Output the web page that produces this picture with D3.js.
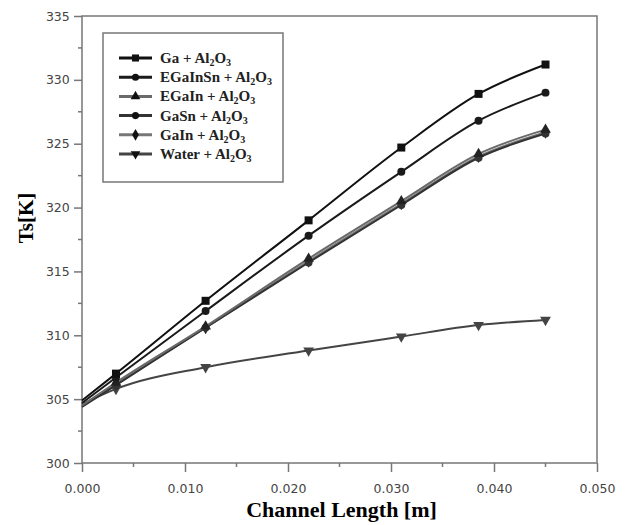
<!DOCTYPE html>
<html>
<head>
<meta charset="utf-8">
<script src="https://cdn.jsdelivr.net/npm/d3@7"></script>
<style>
  body { margin: 0; background: #fff; }
  svg text { font-family: "DejaVu Sans", Verdana, sans-serif; }
</style>
</head>
<body>
<script>
// data
const channelLength = [0, 0.0033, 0.012, 0.022, 0.031, 0.0385, 0.045];
const ga       = [304.9, 307.0, 312.7, 319.0, 324.7, 328.9, 331.2];
const egainsn  = [304.7, 306.7, 311.9, 317.8, 322.8, 326.8, 329.0];
const egain    = [304.5, 306.3, 310.7, 316.0, 320.5, 324.2, 326.1];
const gasn     = [304.4, 306.1, 310.6, 315.7, 320.2, 323.9, 325.8];
const gain     = [304.5, 306.2, 310.6, 315.8, 320.3, 324.0, 325.9];
const water    = [304.6, 305.8, 307.5, 308.8, 309.9, 310.8, 311.2];
const fluids = ['Ga', 'EGaInSn', 'EGaIn', 'GaSn', 'GaIn', 'Water'];
const xTicks = [0, 0.01, 0.02, 0.03, 0.04, 0.05];
const yTicks = [300, 305, 310, 315, 320, 325, 330, 335];

const series = [
  { name: fluids[0], values: ga,      color: '#111', symbol: d3.symbolSquare },
  { name: fluids[1], values: egainsn, color: '#1a1a1a', symbol: d3.symbolCircle },
  { name: fluids[2], values: egain,   color: '#6a6a6a', symbol: d3.symbolTriangle },
  { name: fluids[3], values: gasn,    color: '#333', symbol: d3.symbolCircle },
  { name: fluids[4], values: gain,    color: '#777', symbol: d3.symbolDiamond },
  { name: fluids[5], values: water,   color: '#444', symbol: d3.symbolTriangle, flip: true }
];

const W = 630, H = 525;
const m = { left: 82, right: 33, top: 16, bottom: 62 };

const svg = d3.select('body').append('svg')
  .attr('width', W)
  .attr('height', H);

const x = d3.scaleLinear().domain([0, 0.05]).range([m.left, W - m.right]);
const y = d3.scaleLinear().domain([300, 335]).range([H - m.bottom, m.top]);

// frame
svg.append('rect')
  .attr('x', m.left).attr('y', m.top)
  .attr('width', x(0.05) - m.left).attr('height', y(300) - m.top)
  .attr('fill', 'none').attr('stroke', '#777').attr('stroke-width', 1.5);

// minor ticks
const xMinor = d3.range(0.005, 0.05, 0.01);
const yMinor = d3.range(302.5, 335, 5);
svg.append('g').selectAll('line').data(xMinor).enter().append('line')
  .attr('x1', d => x(d)).attr('x2', d => x(d))
  .attr('y1', y(300)).attr('y2', y(300) + 4)
  .attr('stroke', '#777').attr('stroke-width', 1.5);
svg.append('g').selectAll('line').data(yMinor).enter().append('line')
  .attr('y1', d => y(d)).attr('y2', d => y(d))
  .attr('x1', m.left).attr('x2', m.left - 4)
  .attr('stroke', '#777').attr('stroke-width', 1.5);

// axes
const xAxis = d3.axisBottom(x).tickValues(xTicks).tickFormat(d3.format('.3f')).tickSize(9).tickSizeOuter(0);
const yAxis = d3.axisLeft(y).tickValues(yTicks).tickSize(8).tickSizeOuter(0);

const gx = svg.append('g')
  .attr('transform', `translate(0, ${y(300)})`)
  .call(xAxis);
const gy = svg.append('g')
  .attr('transform', `translate(${m.left}, 0)`)
  .call(yAxis);

[gx, gy].forEach(g => {
  g.select('.domain').remove();
  g.selectAll('.tick line').attr('stroke', '#777').attr('stroke-width', 1.5);
  g.selectAll('.tick text')
    .attr('fill', '#444')
    .style('font-size', '12.5px');
});
gx.selectAll('.tick text').attr('dy', '1.4em');
gy.selectAll('.tick text').attr('dx', '-0.1em');

// axis titles
svg.append('text')
  .attr('x', (m.left + x(0.05)) / 2 + 2)
  .attr('y', 517)
  .attr('text-anchor', 'middle')
  .style('font-family', '"Liberation Serif", "Times New Roman", serif')
  .style('font-weight', 'bold')
  .style('font-size', '22px')
  .text('Channel Length [m]');

svg.append('text')
  .attr('transform', `translate(33, 218) rotate(-90)`)
  .attr('text-anchor', 'middle')
  .style('font-family', '"Liberation Serif", "Times New Roman", serif')
  .style('font-weight', 'bold')
  .style('font-size', '21px')
  .text('Ts[K]');

// curves
const line = d3.line()
  .x((d, i) => x(channelLength[i]))
  .y(d => y(d))
  .curve(d3.curveMonotoneX);

const order = [5, 4, 3, 2, 1, 0];
order.forEach(k => {
  const s = series[k];
  svg.append('path')
    .datum(s.values)
    .attr('d', line)
    .attr('fill', 'none')
    .attr('stroke', s.color)
    .attr('stroke-width', 2);
  svg.append('g').selectAll('path')
    .data(s.values.slice(1))
    .enter().append('path')
    .attr('d', d3.symbol().type(s.symbol).size(s.symbol === d3.symbolSquare ? 64 : 50))
    .attr('transform', (d, i) => `translate(${x(channelLength[i + 1])}, ${y(d)})${s.flip ? ' rotate(180)' : ''}`)
    .attr('fill', s.color === '#777' || s.color === '#6a6a6a' ? '#222' : s.color);
});

// legend
const legend = svg.append('g');
legend.append('rect')
  .attr('x', 103).attr('y', 33)
  .attr('width', 180).attr('height', 149)
  .attr('fill', '#fff').attr('stroke', '#777').attr('stroke-width', 1.5);

series.forEach((s, i) => {
  const ly = 58 + i * 19.2;
  legend.append('line')
    .attr('x1', 119).attr('x2', 152)
    .attr('y1', ly).attr('y2', ly)
    .attr('stroke', s.color).attr('stroke-width', 3);
  legend.append('path')
    .attr('d', d3.symbol().type(s.symbol).size(s.symbol === d3.symbolSquare ? 50 : 40))
    .attr('transform', `translate(135.5, ${ly})${s.flip ? ' rotate(180)' : ''}`)
    .attr('fill', '#111');
  const t = legend.append('text')
    .attr('x', 160).attr('y', ly + 5)
    .style('font-family', '"Liberation Serif", "Times New Roman", serif')
    .style('font-weight', 'bold')
    .style('font-size', '15px')
    .attr('fill', '#222');
  t.append('tspan').text(s.name + ' + Al');
  t.append('tspan').attr('dy', 3).style('font-size', '10px').text('2');
  t.append('tspan').attr('dy', -3).text('O');
  t.append('tspan').attr('dy', 3).style('font-size', '10px').text('3');
});
</script>
</body>
</html>
